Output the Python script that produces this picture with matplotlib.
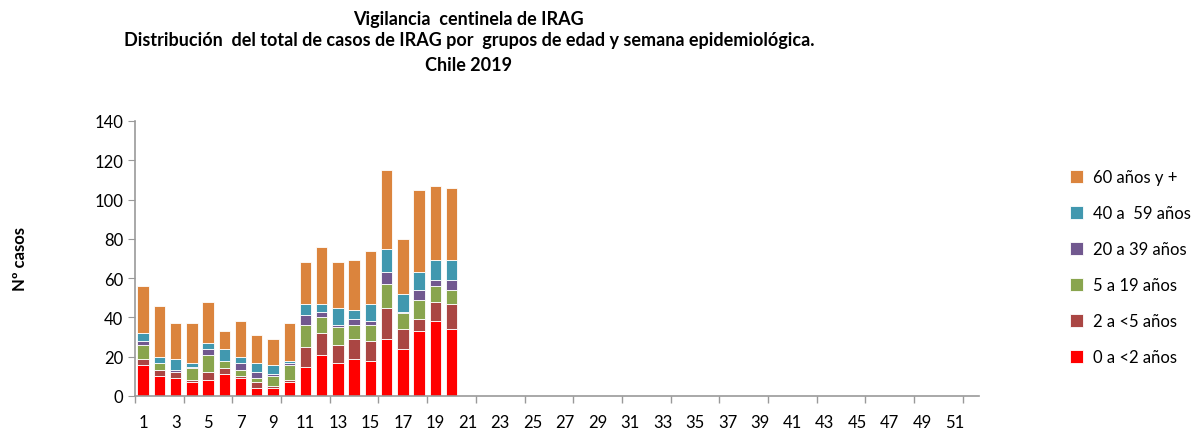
import numpy as np
import matplotlib.pyplot as plt

# weeks 1..52, data only for 1..20
weeks = np.arange(1, 53)
groups = ["0 a <2 años", "2 a <5 años", "5 a 19 años", "20 a 39 años", "40 a  59 años", "60 años y +"]
colors = ["#FF0000", "#AA4643", "#89A54E", "#71588F", "#4198AF", "#DB843D"]

g0_2 = [16, 10, 9, 7, 8, 11, 9, 4, 4, 7, 15, 21, 17, 19, 18, 29, 24, 33, 38, 34]
g2_5 = [3, 3, 3, 1, 4, 3, 1, 3, 1, 1, 10, 11, 9, 10, 10, 16, 10, 6, 10, 13]
g5_19 = [7, 4, 0, 6, 9, 4, 3, 2, 5, 8, 11, 8, 9, 7, 8, 12, 8, 10, 8, 7]
g20_39 = [2, 0, 1, 1, 3, 0, 4, 3, 1, 1, 5, 3, 1, 3, 2, 6, 1, 5, 3, 5]
g40_59 = [4, 3, 6, 2, 3, 6, 3, 5, 5, 1, 6, 4, 9, 5, 9, 12, 9, 9, 10, 10]
g60 = [24, 26, 18, 20, 21, 9, 18, 14, 13, 19, 21, 29, 23, 25, 27, 40, 28, 42, 38, 37]

series = [g0_2, g2_5, g5_19, g20_39, g40_59, g60]

plt.rcParams['font.family'] = ['Lato', 'DejaVu Sans']

fig = plt.figure(figsize=(11.96, 4.31), dpi=100)
ax = fig.add_axes([0.1129, 0.0789, 0.7057, 0.6381])

n = len(g0_2)
bottom = np.zeros(n)
handles = []
for vals, col, lab in zip(series, colors, groups):
    vals = np.array(vals, dtype=float)
    h = ax.bar(weeks[:n], vals, bottom=bottom, width=0.7, color=col,
               edgecolor="white", linewidth=0.6, label=lab)
    handles.append(h)
    bottom += vals

ax.set_xlim(0.5, 52.5)
ax.set_ylim(0, 140)
ax.set_yticks(np.arange(0, 141, 20))
ax.set_xticks(np.arange(1, 52, 2))
ax.set_xticklabels([str(w) for w in range(1, 52, 2)])
ax.set_xticks(np.arange(0.5, 52.6, 3), minor=True)
ax.tick_params(axis="x", which="major", length=0, labelsize=12, pad=13)
ax.tick_params(axis="x", which="minor", length=5, color="#999999", width=1)
ax.tick_params(axis="y", length=5, color="#999999", labelsize=12)

for s in ["top", "right"]:
    ax.spines[s].set_visible(False)
for s in ["left", "bottom"]:
    ax.spines[s].set_color("#999999")
    ax.spines[s].set_linewidth(1.2)

ax.set_ylabel("Nº casos", fontsize=12, fontweight="bold", labelpad=48)

ax.legend(handles[::-1], groups[::-1], loc="upper left", bbox_to_anchor=(1.09, 0.88),
          frameon=False, fontsize=12, handlelength=0.8, handleheight=0.8,
          labelspacing=1.2, handletextpad=0.6)

fig.text(0.392, 0.955, "Vigilancia  centinela de IRAG", ha="center", va="center",
         fontsize=13, fontweight="bold")
fig.text(0.392, 0.905, "Distribución  del total de casos de IRAG por  grupos de edad y semana epidemiológica.",
         ha="center", va="center", fontsize=13, fontweight="bold")
fig.text(0.392, 0.848, "Chile 2019", ha="center", va="center", fontsize=13, fontweight="bold")

fig.savefig("out.png", dpi=100)
